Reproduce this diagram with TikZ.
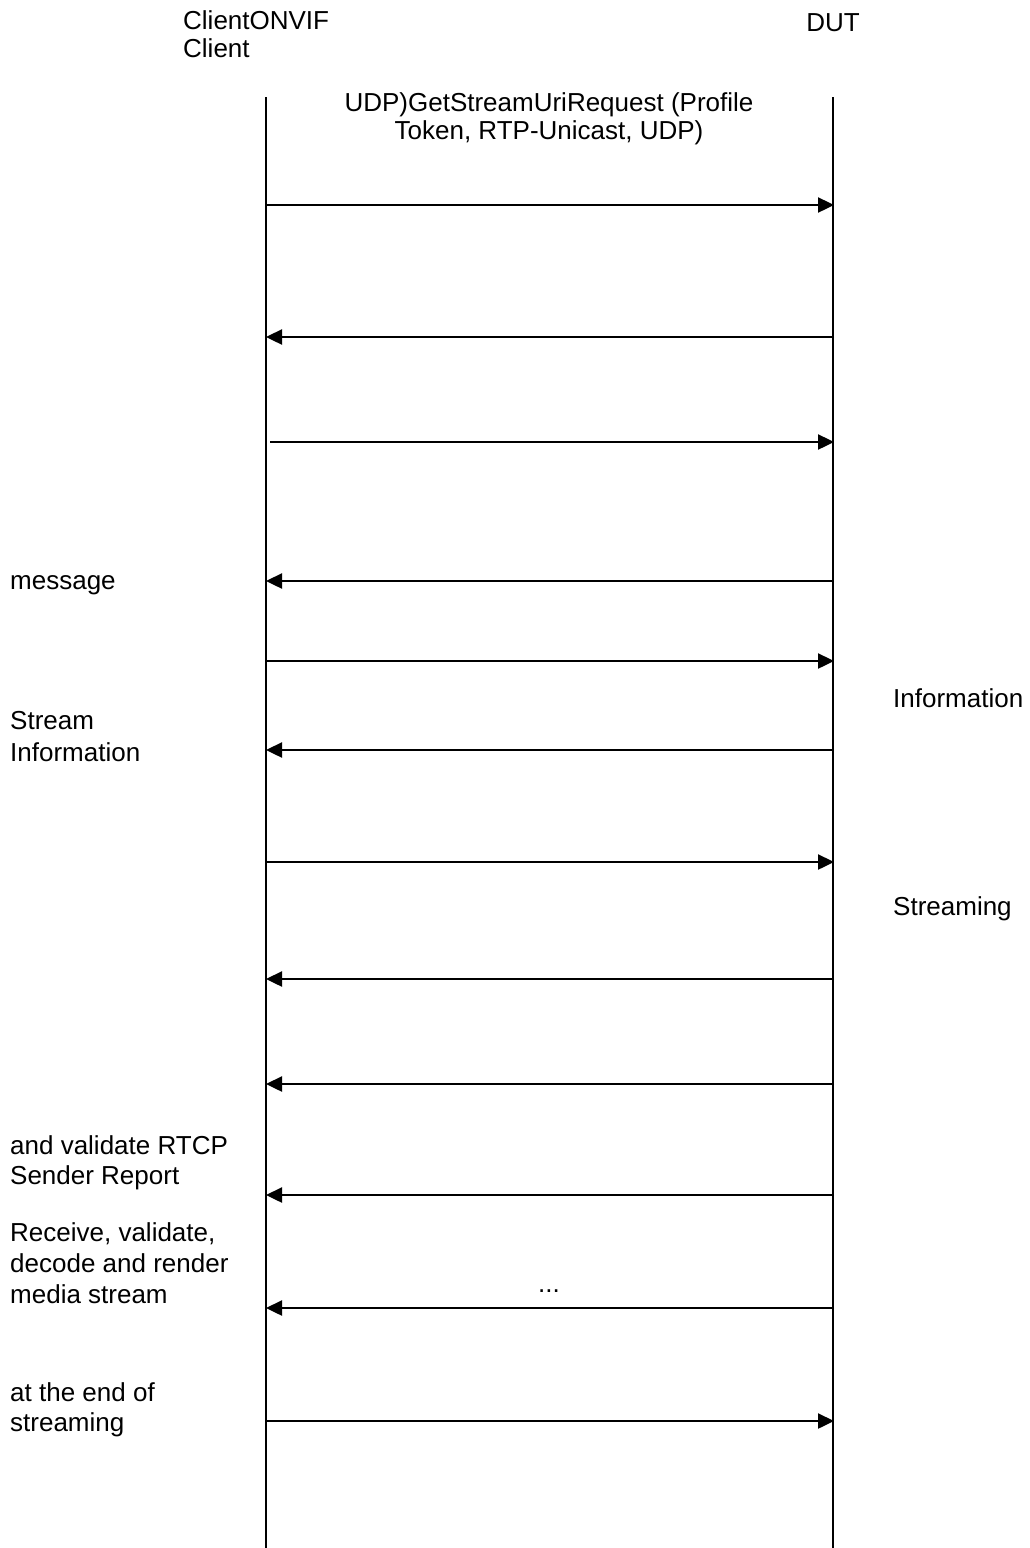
\documentclass[tikz,border=0pt]{standalone}
\usepackage{fontspec}
\setmainfont{Liberation Sans}
\usetikzlibrary{arrows.meta}
\begin{document}
\begin{tikzpicture}[x=1pt,y=-1pt,
  lifeline/.style={line width=1.5pt},
  msg/.style={line width=2.4pt,-{Triangle[length=16pt,width=15pt]}},
  lbl/.style={inner sep=0pt,align=left,anchor=base west,font=\fontsize{26}{30}\selectfont},
  clbl/.style={inner sep=0pt,align=center,anchor=base,font=\fontsize{26}{28}\selectfont}]
\useasboundingbox (0,0) rectangle (1030,1548);
% lifelines
\coordinate (Ltop) at (266,97);
\coordinate (Lbot) at (266,1548);
\coordinate (Rtop) at (833,97);
\coordinate (Rbot) at (833,1548);
\draw[lifeline] (Ltop) -- (Lbot);
\draw[lifeline] (Rtop) -- (Rbot);
% headers (base anchor = baseline of the last line)
\node[lbl,font=\fontsize{26}{28}\selectfont] (client) at (183,57) {ClientONVIF\\Client};
\node[clbl] (dut) at (833,31) {DUT};
\node[clbl] (req) at (549,139) {UDP)GetStreamUriRequest (Profile\\Token, RTP-Unicast, UDP)};
% message end points
\foreach \i/\y in {1/205,2/337,3/442,4/581,5/661,6/750,7/862,8/979,9/1084,10/1195,11/1308,12/1421}{
  \coordinate (l\i) at (266,\y);
  \coordinate (r\i) at (834,\y);
}
\coordinate (l3b) at (270,442);
% messages
\draw[msg] (l1) -- (r1);
\draw[msg] (r2) -- (l2);
\draw[msg] (l3b) -- (r3);
\draw[msg] (r4) -- (l4);
\draw[msg] (l5) -- (r5);
\draw[msg] (r6) -- (l6);
\draw[msg] (l7) -- (r7);
\draw[msg] (r8) -- (l8);
\draw[msg] (r9) -- (l9);
\draw[msg] (r10) -- (l10);
\draw[msg] (r11) -- (l11);
\draw[msg] (l12) -- (r12);
% side labels
\node[lbl] (t1) at (10,589) {message};
\node[lbl] (t2) at (893,707) {Information};
\node[lbl,font=\fontsize{26}{32}\selectfont] (t3) at (10,761) {Stream\\Information};
\node[lbl] (t4) at (893,915) {Streaming};
\node[lbl] (t5) at (10,1184) {and validate RTCP\\Sender Report};
\node[lbl,font=\fontsize{26}{31}\selectfont] (t6) at (10,1303) {Receive, validate,\\decode and render\\media stream};
\node[clbl] (dots) at (549,1292) {...};
\node[lbl] (t7) at (10,1431) {at the end of\\streaming};
\end{tikzpicture}
\end{document}
